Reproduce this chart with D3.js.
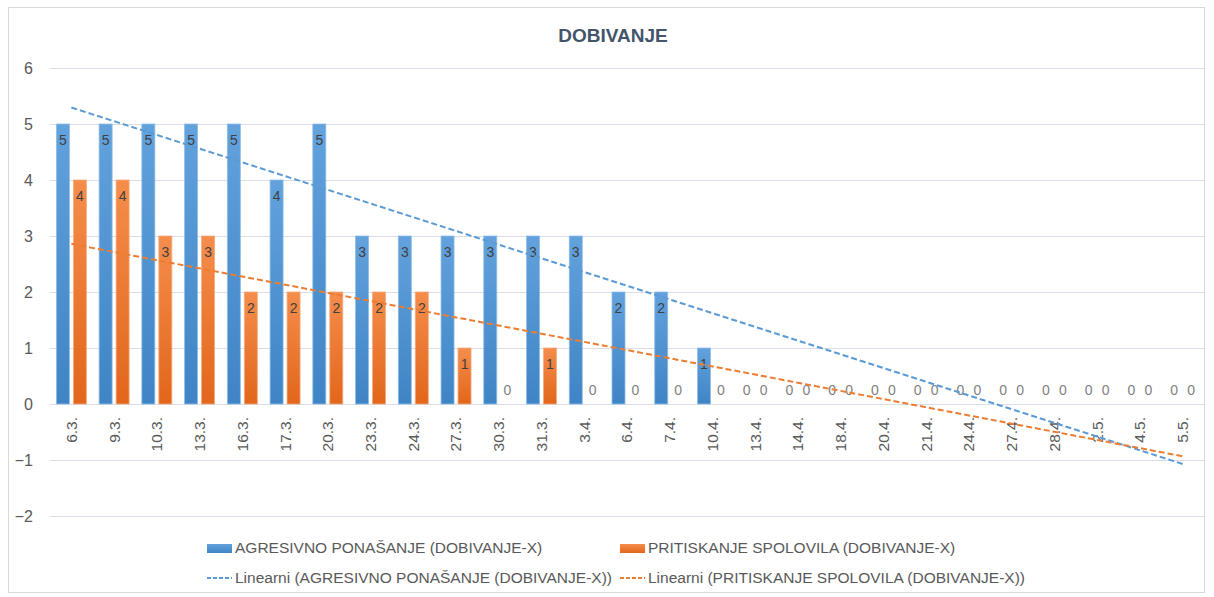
<!DOCTYPE html>
<html>
<head>
<meta charset="utf-8">
<script src="https://cdn.jsdelivr.net/npm/d3@7"></script>
<style>
  html, body { margin: 0; padding: 0; background: #fff; }
  svg { display: block; }
  text { font-family: "Liberation Sans", Arial, sans-serif; }
</style>
</head>
<body>
<svg id="chart" width="1214" height="597"></svg>
<script>
const categories = ["6.3.","9.3.","10.3.","13.3.","16.3.","17.3.","20.3.","23.3.","24.3.","27.3.","30.3.","31.3.","3.4.","6.4.","7.4.","10.4.","13.4.","14.4.","18.4.","20.4.","21.4.","24.4.","27.4.","28.4.","2.5.","4.5.","5.5."];
const agresivno = [5,5,5,5,5,4,5,3,3,3,3,3,3,2,2,1,0,0,0,0,0,0,0,0,0,0,0];
const pritiskanje = [4,4,3,3,2,2,2,2,2,1,0,1,0,0,0,0,0,0,0,0,0,0,0,0,0,0,0];
const seriesNames = ["AGRESIVNO PONAŠANJE (DOBIVANJE-X)", "PRITISKANJE SPOLOVILA (DOBIVANJE-X)"];
const trendNames = ["Linearni (AGRESIVNO PONAŠANJE (DOBIVANJE-X))", "Linearni (PRITISKANJE SPOLOVILA (DOBIVANJE-X))"];
const yTicks = [-2,-1,0,1,2,3,4,5,6];
const title = "DOBIVANJE";

const colors = ["#5b9bd5", "#ed7d31"];
const svg = d3.select("#chart");

// gradients
const defs = svg.append("defs");
const grads = [["gBlue", "#62a2dd", "#3f84c5"], ["gOrange", "#f58d4c", "#e2661b"]];
grads.forEach(([id, top, bot]) => {
  const g = defs.append("linearGradient").attr("id", id).attr("x1", 0).attr("y1", 0).attr("x2", 0).attr("y2", 1);
  g.append("stop").attr("offset", "0%").attr("stop-color", top);
  g.append("stop").attr("offset", "100%").attr("stop-color", bot);
});

// chart border
svg.append("rect").attr("x", 8.5).attr("y", 7.5).attr("width", 1196).attr("height", 585)
  .attr("fill", "#fff").attr("stroke", "#d9d9d9").attr("stroke-width", 1);

const plot = {left: 50, right: 1204, top: 68, bottom: 516};
const y = d3.scaleLinear().domain([-2, 6]).range([plot.bottom, plot.top]);
const x0 = d3.scaleBand().domain(categories).range([plot.left, plot.right]).padding(0);
const x1 = d3.scaleBand().domain([0, 1]).range([0, x0.bandwidth()]).paddingInner(0.235).paddingOuter(0.375);

// title
svg.append("text").attr("x", 613).attr("y", 42).attr("text-anchor", "middle")
  .attr("font-size", 19).attr("font-weight", "bold").attr("fill", "#44546a").text(title);

// gridlines
svg.append("g").selectAll("line").data(yTicks).join("line")
  .attr("x1", plot.left).attr("x2", plot.right)
  .attr("y1", d => Math.round(y(d)) + 0.5).attr("y2", d => Math.round(y(d)) + 0.5)
  .attr("stroke", "#d9dde6").attr("stroke-width", 1);

// y axis labels
const yAxis = d3.axisLeft(y).tickValues(yTicks).tickSize(0).tickPadding(0).tickFormat(d3.format("d"));
const yg = svg.append("g").attr("transform", `translate(33,0)`).call(yAxis);
yg.select(".domain").remove();
yg.selectAll("text").attr("font-size", 16).attr("fill", "#595959").attr("font-family", "Liberation Sans, Arial, sans-serif");

// x axis labels (rotated)
const xAxis = d3.axisBottom(x0).tickSize(0).tickPadding(0);
const xg = svg.append("g").attr("transform", `translate(0,${y(0)})`).call(xAxis);
xg.select(".domain").remove();
xg.selectAll("text")
  .attr("font-size", 15.5).attr("fill", "#595959").attr("font-family", "Liberation Sans, Arial, sans-serif")
  .attr("transform", "rotate(-90)")
  .attr("text-anchor", "end")
  .attr("x", -13).attr("y", 0).attr("dy", "0.35em");

// bars
const data = [agresivno, pritiskanje];
const fills = ["url(#gBlue)", "url(#gOrange)"];
const strokes = ["#8fbde6", "#f6ab7c"];
data.forEach((vals, si) => {
  svg.append("g").selectAll("rect").data(vals.map((v, i) => ({v, c: categories[i]}))).join("rect")
    .filter(d => d.v > 0)
    .attr("x", d => x0(d.c) + x1(si))
    .attr("y", d => y(d.v))
    .attr("width", x1.bandwidth())
    .attr("height", d => y(0) - y(d.v))
    .attr("fill", fills[si])
    .attr("stroke", strokes[si]).attr("stroke-width", 0.8);
});

// data labels
data.forEach((vals, si) => {
  svg.append("g").selectAll("text").data(vals.map((v, i) => ({v, c: categories[i]}))).join("text")
    .attr("x", d => x0(d.c) + x1(si) + x1.bandwidth() / 2)
    .attr("y", d => d.v > 0 ? y(d.v) + 20.5 : y(0) - 9)
    .attr("text-anchor", "middle")
    .attr("font-size", 14)
    .attr("fill", d => d.v > 0 ? "#404040" : "#7f7f7f")
    .text(d => d.v);
});

// linear trendlines
function linreg(vals) {
  const n = vals.length;
  const xs = vals.map((_, i) => i + 1);
  const mx = d3.mean(xs), my = d3.mean(vals);
  let sxy = 0, sxx = 0;
  xs.forEach((xv, i) => { sxy += (xv - mx) * (vals[i] - my); sxx += (xv - mx) ** 2; });
  const b = sxy / sxx, a = my - b * mx;
  return [[1, a + b], [n, a + b * n]];
}
data.forEach((vals, si) => {
  const pts = linreg(vals);
  const cx = i => x0(categories[i - 1]) + x0.bandwidth() / 2;
  svg.append("line")
    .attr("x1", cx(pts[0][0])).attr("y1", y(pts[0][1]))
    .attr("x2", cx(pts[1][0])).attr("y2", y(pts[1][1]))
    .attr("stroke", colors[si]).attr("stroke-width", 2).attr("stroke-dasharray", "6,3");
});

// legend
const legend = svg.append("g");
const lx = [207, 620];
[0, 1].forEach(si => {
  legend.append("rect").attr("x", lx[si]).attr("y", 544).attr("width", 25).attr("height", 9).attr("fill", fills[si]);
  legend.append("text").attr("x", lx[si] + 28).attr("y", 548).attr("dy", "0.35em")
    .attr("font-size", 15.5).attr("fill", "#595959").text(seriesNames[si]);
  legend.append("line").attr("x1", lx[si]).attr("x2", lx[si] + 25).attr("y1", 578).attr("y2", 578)
    .attr("stroke", colors[si]).attr("stroke-width", 2).attr("stroke-dasharray", "4,2");
  legend.append("text").attr("x", lx[si] + 28).attr("y", 578).attr("dy", "0.35em")
    .attr("font-size", 15.5).attr("fill", "#595959").text(trendNames[si]);
});
</script>
</body>
</html>
